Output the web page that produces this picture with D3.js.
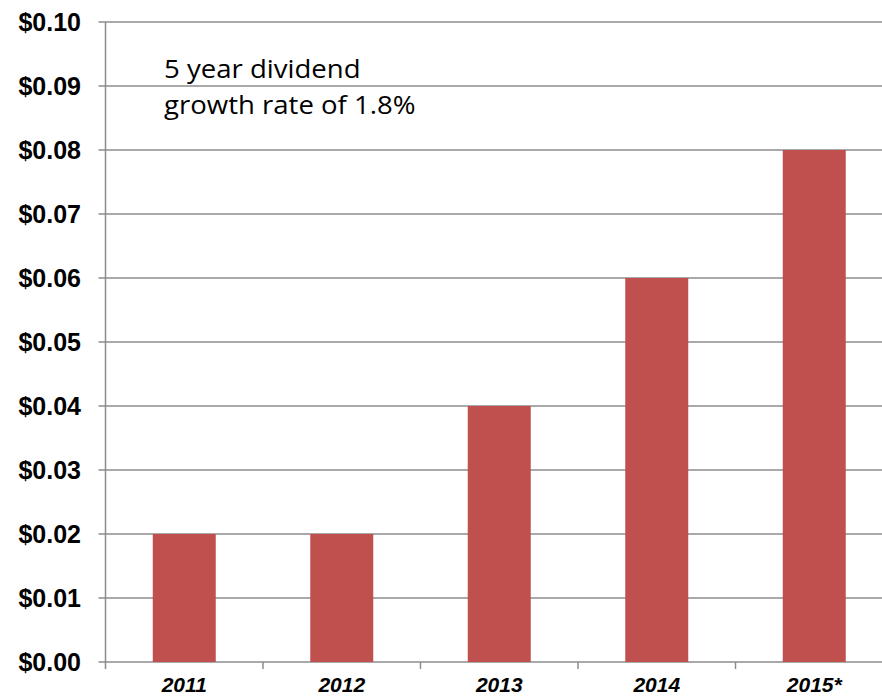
<!DOCTYPE html>
<html>
<head>
<meta charset="utf-8">
<script src="https://cdn.jsdelivr.net/npm/d3@7"></script>
<style>
  body { margin: 0; background: #fff; }
  .grid line { stroke: #8c8c8c; stroke-width: 1.5; }
  .ylab { font-family: "Liberation Sans", Arial, sans-serif; font-weight: bold; font-size: 25px; fill: #000; }
  .xlab { font-family: "Liberation Sans", Arial, sans-serif; font-weight: bold; font-style: italic; font-size: 21px; fill: #000; }
  .note { font-family: "Open Sans", sans-serif; font-size: 26px; fill: #000; }
</style>
</head>
<body>
<div id="chart"></div>
<script>
const width = 882, height = 697;
const years = ["2011", "2012", "2013", "2014", "2015*"];
const dividends = [0.02, 0.02, 0.04, 0.06, 0.08];
const yTicks = [0, 0.01, 0.02, 0.03, 0.04, 0.05, 0.06, 0.07, 0.08, 0.09, 0.10];
const noteLines = ["5 year dividend", "growth rate of 1.8%"];

// plot box (right edge runs past the window, as in the original)
var plotL = 105.5, plotR = 893, plotT = 22, plotB = 662;
// the note font in the original is a bit wider than Open Sans
var stretchNote = 1.06;

var svg = d3.select("#chart")
    .append("svg")
    .attr("width", width)
    .attr("height", height);

var x = d3.scaleBand()
    .domain(years)
    .range([plotL, plotR])
    .paddingInner(0.6)
    .paddingOuter(0.3);

var xCat = d3.scaleBand()
    .domain(years)
    .range([plotL, plotR]);

var y = d3.scaleLinear()
    .domain([0, 0.10])
    .range([plotB, plotT]);

// gridlines + y ticks
var grid = svg.append("g").attr("class", "grid");
grid.selectAll("line").data(yTicks)
    .enter().append("line")
    .attr("x1", plotL - 7)
    .attr("x2", width)
    .attr("y1", d => y(d))
    .attr("y2", d => y(d));

// bars
svg.selectAll("rect").data(dividends)
    .enter().append("rect")
    .attr("x", (d, i) => x(years[i]))
    .attr("width", x.bandwidth())
    .attr("y", d => y(d))
    .attr("height", d => y(0) - y(d))
    .attr("fill", "#c0504d");

// left axis line
svg.append("line")
    .attr("x1", plotL).attr("x2", plotL)
    .attr("y1", plotT).attr("y2", plotB + 7)
    .attr("stroke", "#8c8c8c").attr("stroke-width", 1.5);

// x ticks between categories
svg.selectAll(".xtick").data(years.slice(1))
    .enter().append("line")
    .attr("class", "xtick")
    .attr("x1", d => xCat(d)).attr("x2", d => xCat(d))
    .attr("y1", plotB).attr("y2", plotB + 7)
    .attr("stroke", "#8c8c8c").attr("stroke-width", 1.5);

// y labels
svg.selectAll(".ylab").data(yTicks)
    .enter().append("text")
    .attr("class", "ylab")
    .attr("x", 81)
    .attr("y", d => y(d))
    .attr("dy", "0.36em")
    .attr("text-anchor", "end")
    .text(d => "$" + d.toFixed(2));

// x labels
svg.selectAll(".xlab").data(years)
    .enter().append("text")
    .attr("class", "xlab")
    .attr("x", d => xCat(d) + xCat.bandwidth() / 2)
    .attr("y", 692)
    .attr("text-anchor", "middle")
    .text(d => d);

// note
svg.selectAll(".note").data(noteLines)
    .enter().append("text")
    .attr("class", "note")
    .attr("transform", (d, i) => "translate(164," + (78 + i * 36) + ") scale(" + stretchNote + ",1)")
    .text(d => d);
</script>
</body>
</html>
